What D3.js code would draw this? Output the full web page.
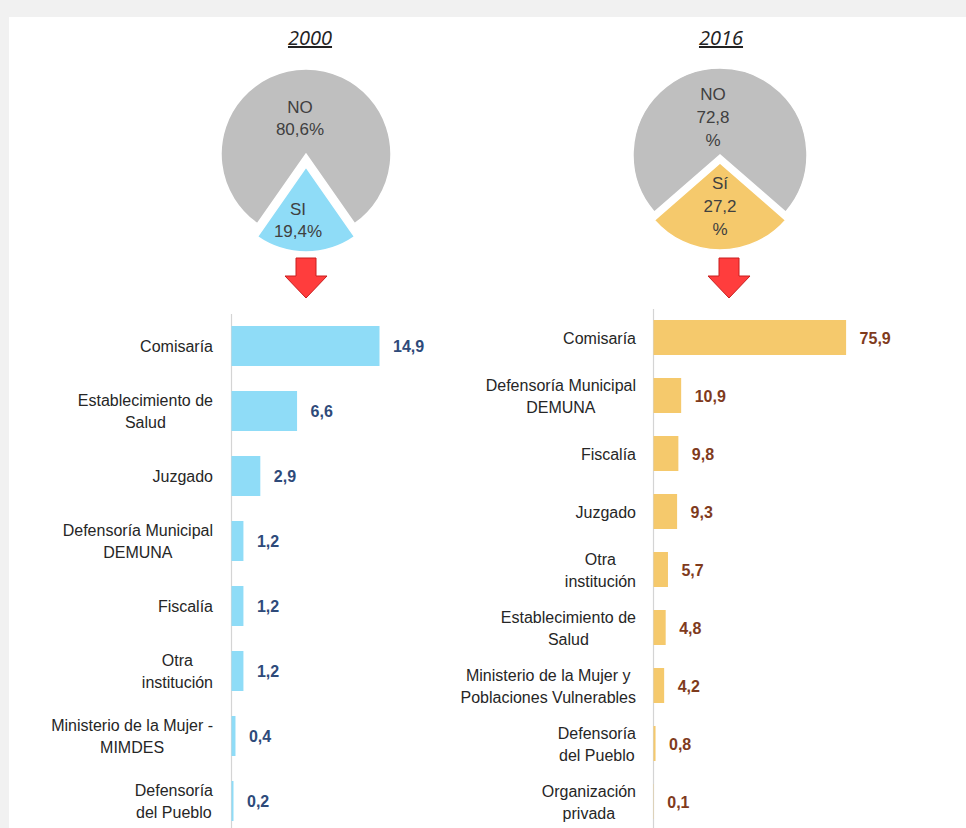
<!DOCTYPE html>
<html>
<head>
<meta charset="utf-8">
<script src="https://cdn.jsdelivr.net/npm/d3@7"></script>
<style>
  body { margin: 0; background: #f1f1f1; }
  svg { display: block; font-family: "Liberation Sans", Arial, sans-serif; }
</style>
</head>
<body>
<div id="chart"></div>
<script>
// data
const years = ["2000", "2016"]

const pieLabels2000 = ["SI", "NO"]
const pieValues2000 = [19.4, 80.6]
const pieLabels2016 = ["Sí", "NO"]
const pieValues2016 = [27.2, 72.8]

const cats2000 = ["Comisaría", "Establecimiento de\nSalud", "Juzgado", "Defensoría Municipal\nDEMUNA",
  "Fiscalía", "Otra\ninstitución", "Ministerio de la Mujer -\nMIMDES", "Defensoría\ndel Pueblo"]
const values2000 = [14.9, 6.6, 2.9, 1.2, 1.2, 1.2, 0.4, 0.2]

const cats2016 = ["Comisaría", "Defensoría Municipal\nDEMUNA", "Fiscalía", "Juzgado", "Otra\ninstitución",
  "Establecimiento de\nSalud", "Ministerio de la Mujer y\nPoblaciones Vulnerables", "Defensoría\ndel Pueblo",
  "Organización\nprivada"]
const values2016 = [75.9, 10.9, 9.8, 9.3, 5.7, 4.8, 4.2, 0.8, 0.1]

const W = 966, H = 828
const locale = d3.formatLocale({ decimal: ",", thousands: ".", grouping: [3], currency: ["", ""] })
const fmt = locale.format(".1f")

const svg = d3.select("#chart").append("svg")
  .attr("width", W).attr("height", H)

// page background + white panel
svg.append("rect").attr("width", W).attr("height", H).attr("fill", "#f1f1f1")
svg.append("rect").attr("x", 9).attr("y", 17).attr("width", W - 9).attr("height", H - 17).attr("fill", "#fff")

function drawPie(cfg) {
  const g = svg.append("g").attr("transform", `translate(${cfg.cx},${cfg.cy})`)
  const a = 2 * Math.PI * cfg.values[0] / 100
  const pie = d3.pie().sort(null).value(d => d)
    .startAngle(Math.PI - a / 2).endAngle(Math.PI - a / 2 + 2 * Math.PI)
  const arcs = pie(cfg.values)
  const arc = d3.arc().innerRadius(0).outerRadius(cfg.r)
  const colors = [cfg.color, "#bfbfbf"]

  const slice = g.selectAll("g.slice").data(arcs).enter().append("g")
    .attr("class", "slice")
    .attr("transform", (d, i) => {
      const m = (d.startAngle + d.endAngle) / 2
      const off = cfg.explode[i]
      return `translate(${Math.sin(m) * off},${-Math.cos(m) * off})`
    })

  slice.append("path")
    .attr("d", arc)
    .attr("fill", (d, i) => colors[i])
    .attr("stroke", "#fff").attr("stroke-width", 1.5)

  slice.each(function (d, i) {
    const m = (d.startAngle + d.endAngle) / 2
    const rr = cfg.r * cfg.labelR[i]
    const lines = cfg.texts[i]
    const lh = cfg.lineH
    const t = d3.select(this).append("text")
      .attr("text-anchor", "middle")
      .attr("font-size", 17)
      .attr("fill", "#404040")
    lines.forEach((ln, k) => {
      t.append("tspan")
        .attr("x", Math.sin(m) * rr + cfg.dx[i])
        .attr("y", -Math.cos(m) * rr + (k - (lines.length - 1) / 2) * lh + 6)
        .text(ln)
    })
  })

  // year title
  svg.append("text")
    .attr("x", cfg.cx + cfg.titleDx).attr("y", 45)
    .attr("text-anchor", "middle")
    .attr("font-family", "'Open Sans', 'Liberation Sans', sans-serif")
    .attr("font-style", "italic")
    .attr("font-size", 20)
    .attr("fill", "#222")
    .attr("text-decoration", "underline")
    .text(cfg.year)

  // red arrow
  const ax = cfg.arrowX, ay = 258
  const arrow = d3.path()
  arrow.moveTo(ax - 10, ay)
  arrow.lineTo(ax + 10, ay)
  arrow.lineTo(ax + 10, ay + 18)
  arrow.lineTo(ax + 21, ay + 18)
  arrow.lineTo(ax, ay + 40)
  arrow.lineTo(ax - 21, ay + 18)
  arrow.lineTo(ax - 10, ay + 18)
  arrow.closePath()
  svg.append("path").attr("d", arrow.toString())
    .attr("fill", "#ff3d3d").attr("stroke", "#c81e1e").attr("stroke-width", 1)
}

function drawBars(cfg) {
  const g = svg.append("g")
  const x = d3.scaleLinear().domain([0, cfg.max]).range([cfg.x0, cfg.x1])
  const y = d3.scaleBand().domain(cfg.cats).range([cfg.y0, cfg.y1])
    .paddingInner(cfg.pad).paddingOuter(cfg.pad / 2)

  const axis = g.append("g")
    .attr("transform", `translate(${cfg.x0},0)`)
    .call(d3.axisLeft(y).tickSize(0).tickFormat(""))
  axis.select(".domain").attr("stroke", "#d4d4d4").attr("stroke-width", 1.2)

  g.selectAll("rect.bar").data(cfg.values).enter().append("rect")
    .attr("class", "bar")
    .attr("x", x(0) + 0.5)
    .attr("y", (d, i) => y(cfg.cats[i]))
    .attr("width", d => Math.max(0, x(d) - x(0)))
    .attr("height", y.bandwidth())
    .attr("fill", cfg.color)

  g.selectAll("text.val").data(cfg.values).enter().append("text")
    .attr("class", "val")
    .attr("x", d => x(d) + 14)
    .attr("y", (d, i) => y(cfg.cats[i]) + y.bandwidth() / 2 + 6)
    .attr("font-size", 16).attr("font-weight", "bold")
    .attr("fill", cfg.valColor)
    .text(d => fmt(d))

  // category labels: block right-aligned to the axis, lines centred on each other
  g.selectAll("text.cat").data(cfg.cats).enter().append("text")
    .attr("class", "cat")
    .attr("text-anchor", "middle")
    .attr("font-size", 16)
    .attr("fill", "#262626")
    .each(function (c) {
      const lines = c.split("\n")
      const cy = y(c) + y.bandwidth() / 2
      const spans = lines.map((ln, k) => d3.select(this).append("tspan")
        .attr("y", cy + (k - (lines.length - 1) / 2) * 22 + 6)
        .text(ln))
      const wMax = d3.max(spans, s => s.node().getComputedTextLength())
      spans.forEach(s => s.attr("x", cfg.labelX - wMax / 2))
    })
}

drawPie({
  year: years[0], cx: 306, cy: 160, r: 85, values: pieValues2000, color: "#8fdcf7",
  explode: [7, 6], labelR: [0.62, 0.42], dx: [-8, -6], lineH: 22, titleDx: 4, arrowX: 306,
  texts: [[pieLabels2000[0], fmt(pieValues2000[0]) + "%"], [pieLabels2000[1], fmt(pieValues2000[1]) + "%"]]
})
drawPie({
  year: years[1], cx: 720, cy: 159, r: 87, values: pieValues2016, color: "#f5c96c",
  explode: [4, 4], labelR: [0.49, 0.44], dx: [0, -7], lineH: 23, titleDx: 1, arrowX: 729,
  texts: [[pieLabels2016[0], fmt(pieValues2016[0]), "%"], [pieLabels2016[1], fmt(pieValues2016[1]), "%"]]
})

drawBars({
  cats: cats2000, values: values2000, max: 15, x0: 231, x1: 380,
  y0: 313.5, y1: 833.5, pad: 25 / 65, color: "#8fdcf7", valColor: "#2e4a7a", labelX: 213
})
drawBars({
  cats: cats2016, values: values2016, max: 80, x0: 653, x1: 856,
  y0: 308.5, y1: 830.5, pad: 23 / 58, color: "#f5c96c", valColor: "#7f3b1d", labelX: 636
})
</script>
</body>
</html>
